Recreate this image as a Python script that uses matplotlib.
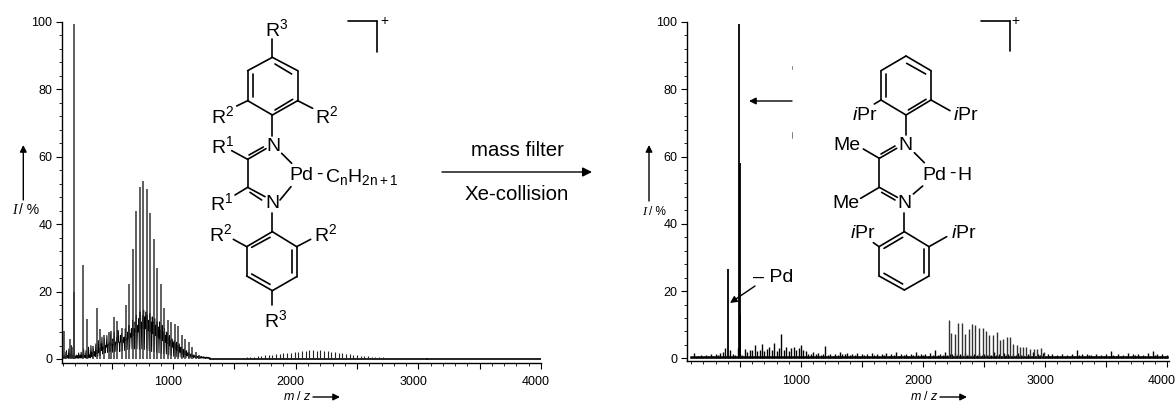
import numpy as np
import matplotlib
matplotlib.use('Agg')
import matplotlib.pyplot as plt
from matplotlib.transforms import ScaledTranslation

plt.rcParams['font.family'] = ['Liberation Sans', 'DejaVu Sans']
plt.rcParams['mathtext.fontset'] = 'custom'
plt.rcParams['mathtext.rm'] = 'Liberation Sans'
plt.rcParams['mathtext.it'] = 'Liberation Sans:italic'
plt.rcParams['mathtext.default'] = 'regular'

# left spectrum, strong peaks
left_mz = [110, 130, 159, 175, 189, 192, 265, 298, 345, 377, 407, 437, 478, 496, 521, 545, 586,
           614, 642, 671, 700, 728, 757, 785, 814, 842, 871, 900, 928, 957, 985, 1014, 1042,
           1071, 1100, 1128, 1157, 1185, 1214]
left_int = [8.3, 2.0, 6.0, 3.5, 20.0, 99.5, 28.0, 12.0, 4.0, 15.0, 9.0, 7.0, 8.0, 8.3, 12.6, 11.3, 9.3,
            16.0, 22.3, 32.6, 44.0, 51.0, 52.8, 50.4, 43.3, 35.6, 27.0, 22.3, 15.0, 11.6, 11.0,
            10.5, 9.8, 7.0, 6.0, 5.0, 3.6, 2.0, 1.2]
# left spectrum, dense part: tops every 10 m/z from 100, valleys half way between
left_top = [0.8, 1.2, 0.8, 2.5, 1.0, 3.0, 1.5, 4.0, 1.0, 1.5, 0.8, 1.2, 1.0, 1.8, 1.0, 2.0, 1.2, 3.0, 1.0, 2.5,
            1.0, 3.5, 1.2, 4.0, 2.0, 3.0, 2.2, 4.5, 2.5, 5.5, 3.2, 4.5, 6.5, 3.5, 6.0, 4.0, 7.0, 4.2, 5.0, 7.5,
            4.5, 6.0, 8.0, 5.0, 6.5, 8.5, 5.0, 7.0, 7.5, 5.5, 6.5, 9.0, 6.0, 8.0, 10.0, 7.5, 9.0, 11.5, 9.0, 11.0,
            13.0, 10.0, 12.0, 14.0, 11.0, 13.0, 14.5, 12.5, 14.0, 13.0, 11.5, 13.5, 11.0, 12.5, 11.0, 12.0, 10.0, 11.0, 9.5, 11.0,
            8.5, 10.0, 8.0, 9.0, 7.0, 8.0, 6.5, 7.0, 5.5, 6.0, 5.0, 5.5, 4.5, 5.0, 4.0, 4.5, 3.5, 3.5, 2.8, 3.0,
            2.2, 2.5, 1.8, 2.0, 1.5, 1.5, 1.2, 1.2, 1.0, 1.0, 0.8, 0.9, 0.7, 0.8, 0.6, 0.7, 0.5, 0.6, 0.5, 0.5, 0.4]
left_low = [0.2, 0.3, 0.2, 0.4, 0.2, 0.5, 0.3, 0.4, 0.2, 0.2, 0.2, 0.3, 0.2, 0.3, 0.3, 0.3, 0.4, 0.5, 0.3, 0.4,
            0.2, 0.5, 0.3, 0.7, 0.4, 1.0, 0.7, 1.5, 0.8, 1.8, 1.0, 2.5, 1.5, 3.0, 1.8, 3.5, 2.0, 4.0, 2.2, 4.0,
            2.0, 4.0, 2.2, 4.5, 2.5, 5.0, 2.2, 5.0, 2.5, 5.0, 2.5, 5.5, 2.8, 6.0, 2.8, 6.5, 3.0, 7.0, 3.0, 8.0,
            3.0, 8.0, 2.8, 9.0, 3.0, 9.0, 2.8, 9.0, 3.0, 8.5, 2.5, 8.0, 2.2, 7.5, 2.2, 7.0, 2.0, 6.5, 1.8, 6.0,
            1.7, 5.5, 1.5, 5.0, 1.5, 4.5, 1.2, 4.0, 1.0, 3.5, 0.8, 3.0, 0.7, 2.5, 0.6, 2.0, 0.5, 1.5, 0.5, 1.2,
            0.4, 1.0, 0.4, 0.8, 0.3, 0.7, 0.3, 0.5, 0.3, 0.4, 0.2, 0.3, 0.2, 0.3, 0.2, 0.2, 0.1, 0.2, 0.1, 0.1, 0.1]
# left spectrum, weak hump: every 30 m/z from 1300
left_hump = [0.3, 0.4, 0.3, 0.2, 0.2, 0.2, 0.3, 0.3, 0.4, 0.4, 0.5, 0.6, 0.7, 0.8, 0.9, 1.1, 1.2, 1.3, 1.5, 1.5,
             1.7, 1.7, 1.8, 2.0, 2.0, 2.3, 2.4, 2.6, 2.8, 2.5, 2.6, 2.3, 2.3, 2.1, 2.0, 1.8, 1.7, 1.5, 1.4, 1.3,
             1.2, 1.0, 0.9, 0.8, 0.7, 0.6, 0.6, 0.5, 0.4, 0.4, 0.3, 0.3, 0.3, 0.2, 0.2, 0.2, 0.2, 0.2, 0.2, 0.2]

# right spectrum, strong peaks
right_mz = [399, 496, 499, 502]
right_int = [26.5, 99.5, 58.0, 13.0]
# right spectrum, oligomer peaks
right_olig_mz = [2210, 2232, 2259, 2289, 2319, 2347, 2374, 2404, 2429, 2459, 2489, 2519, 2543, 2573, 2603,
                 2628, 2655, 2685, 2715, 2737, 2767, 2794, 2819, 2846, 2876, 2906, 2934, 2966, 2994]
right_olig_int = [11.4, 7.4, 7.2, 10.4, 10.4, 7.2, 8.6, 10.2, 9.8, 8.9, 8.9, 8.1, 6.9, 6.9, 7.9,
                  5.4, 5.9, 6.2, 6.4, 4.2, 4.0, 3.5, 3.3, 3.5, 2.9, 2.9, 2.7, 3.0, 2.0]
# right spectrum, noise: every 20 m/z from 100
right_noise = [0.4, 1.5, 0.5, 0.8, 0.9, 0.5, 0.9, 0.8, 1.2, 0.8, 1.4, 1.0, 1.6, 1.8, 3.2, 1.0, 2.5, 1.2, 1.0, 3.0,
               1.2, 1.0, 2.8, 2.0, 2.6, 2.4, 4.0, 2.2, 2.6, 4.2, 2.2, 2.8, 3.4, 2.4, 4.5, 2.2, 3.0, 7.2, 2.4, 3.5,
               2.2, 3.0, 3.5, 2.4, 3.2, 4.0, 2.6, 2.2, 1.4, 1.2, 2.0, 1.2, 1.5, 1.0, 1.4, 3.7, 1.0, 1.4, 0.8, 1.4,
               1.0, 2.0, 1.4, 1.2, 1.6, 0.9, 1.4, 1.0, 1.5, 0.8, 1.2, 0.9, 1.4, 0.8, 1.6, 1.0, 1.2, 0.8, 1.4, 0.9,
               1.6, 0.8, 1.2, 0.9, 1.8, 0.8, 1.2, 0.9, 1.4, 0.8, 1.2, 0.9, 2.0, 0.9, 1.4, 1.0, 1.2, 0.8, 1.6, 1.0,
               2.5, 1.0, 1.4, 0.9, 1.8, 1.0, 1.4, 1.2, 1.6, 1.0, 1.4, 0.9, 1.6, 1.0, 1.2, 0.9, 1.4, 1.0, 1.6, 0.9,
               1.2, 1.0, 1.4, 0.9, 1.8, 0.9, 1.2, 0.8, 1.6, 1.0, 1.4, 0.8, 1.2, 0.9, 1.6, 0.9, 1.0, 0.8, 1.4, 0.9,
               1.8, 0.8, 1.2, 1.0, 1.5, 0.8, 1.2, 0.7, 1.4, 0.8, 1.0, 0.7, 1.2, 0.8, 1.0, 0.7, 1.2, 0.8, 2.5, 0.9,
               1.4, 0.8, 1.2, 0.9, 1.0, 0.8, 1.4, 0.8, 1.0, 0.7, 1.2, 0.8, 2.3, 1.0, 0.8, 1.2, 0.7, 1.0, 0.8, 1.6,
               0.8, 1.2, 0.9, 1.4, 0.7, 1.0, 0.8, 1.6, 0.8, 2.3, 1.0, 1.4, 0.7, 1.2, 0.8, 1.0]

y_ticks = [0, 20, 40, 60, 80, 100]
x_ticks = [500, 1000, 1500, 2000, 2500, 3000, 3500, 4000]
x_labels = ['', '1000', '', '2000', '', '3000', '', '4000']

W, H = 1176, 403
fig = plt.figure(figsize=(W / 100, H / 100), dpi=100)


def make_axes(x0, x1, y_top, y_bot, xlim, ybot):
    ax = fig.add_axes([x0 / W, 1 - y_bot / H, (x1 - x0) / W, (y_bot - y_top) / H])
    ax.set_xlim(*xlim)
    ax.set_ylim(ybot, 100)
    ax.spines['top'].set_visible(False)
    ax.spines['right'].set_visible(False)
    ax.spines['left'].set_linewidth(1.0)
    ax.spines['bottom'].set_linewidth(1.0)
    ax.set_yticks(y_ticks)
    ax.set_yticks(np.arange(0, 101, 4), minor=True)
    ax.set_xticks(x_ticks)
    ax.set_xticklabels(x_labels)
    ax.set_xticks(np.arange(100, 4001, 100), minor=True)
    ax.tick_params(axis='both', which='major', length=4, width=0.8, labelsize=9, pad=3)
    ax.tick_params(axis='both', which='minor', length=2, width=0.6)
    ax.tick_params(axis='x', pad=6)
    # tick numbers sit a little left of their ticks in the original
    for t in ax.get_xticklabels():
        t.set_transform(t.get_transform() + ScaledTranslation(-5 / 100, 0, fig.dpi_scale_trans))
    ax.patch.set_alpha(0)
    return ax


ax1 = make_axes(62, 541, 22, 362.6, (94, 4000), -1.07)
mz_dense = 100 + 10 * np.arange(len(left_top))
xs = np.column_stack([mz_dense, mz_dense + 5]).ravel()
ys = np.column_stack([left_top, left_low]).ravel()
ax1.plot(xs, ys, color='k', lw=0.7)
mz_hump = 1300 + 30 * np.arange(len(left_hump))
ax1.plot(mz_hump, np.zeros(len(left_hump)) + 0.05, color='k', lw=1.2)
ax1.plot([3070, 4000], [0.05, 0.05], color='k', lw=1.2)
ax1.vlines(mz_hump, 0, left_hump, color='#222222', lw=0.8)
ax1.vlines(left_mz, 0, left_int, color='#333333', lw=1.1)

ax2 = make_axes(687, 1169, 22, 360.7, (66, 4015), -0.7)
mz_noise = 100 + 20 * np.arange(len(right_noise))
ax2.plot(mz_noise, np.zeros(len(mz_noise)) + 0.35, color='k', lw=1.8)
ax2.vlines(mz_noise, 0.1, right_noise, color='k', lw=1.0)
ax2.vlines(right_olig_mz, 0.3, right_olig_int, color='#333333', lw=1.0)
ax2.vlines(right_mz, 0, right_int, color='k', lw=1.3)

# overlay in picture pixels for the structures and arrows
ov = fig.add_axes([0, 0, 1, 1])
ov.set_xlim(0, W)
ov.set_ylim(H, 0)
ov.axis('off')
ov.patch.set_alpha(0)


def bonds(segs, ox, oy=0, lw=1.2, color='k'):
    for (a, b, c, d) in segs:
        ov.plot([ox + a / 3, ox + c / 3], [oy + b / 3, oy + d / 3], color=color, lw=lw,
                solid_capstyle='round')


def label(s, x, y, ox, size=14, **kw):
    ov.text(ox + x / 3, y / 3, s, fontsize=size, ha='center', va='center', **kw)


def arrow(x0, y0, x1, y1, scale=10):
    ov.annotate('', xy=(x1, y1), xytext=(x0, y0),
                arrowprops=dict(arrowstyle='-|>', color='k', lw=1.0, mutation_scale=scale,
                                shrinkA=0, shrinkB=0))


left_bonds = [(277, 172, 353, 212), (353, 212, 353, 302), (353, 302, 277, 345), (277, 345, 203, 302),
              (203, 302, 203, 212), (203, 212, 277, 172), (218, 222, 218, 290), (285, 192, 335, 222),
              (285, 330, 338, 298), (277, 172, 277, 118), (203, 302, 170, 318), (353, 302, 398, 325),
              (277, 345, 277, 408), (203, 478, 258, 446), (207, 465, 250, 441), (203, 478, 155, 452),
              (203, 478, 203, 562), (203, 562, 165, 585), (203, 562, 255, 590), (210, 577, 245, 600),
              (305, 460, 335, 490), (300, 600, 333, 560), (277, 640, 277, 695), (277, 695, 350, 740),
              (350, 740, 350, 830), (350, 830, 277, 872), (277, 872, 200, 828), (200, 828, 200, 740),
              (200, 740, 277, 695), (215, 742, 270, 712), (335, 750, 335, 820), (215, 822, 270, 853),
              (200, 740, 160, 718), (350, 740, 392, 718), (277, 872, 277, 915), (503, 63, 592, 63),
              (592, 63, 592, 155)]
bonds(left_bonds, 180)
label('+', 612, 63, 180, size=10)
for s, x, y in [('R$^{3}$', 291, 87), ('R$^{2}$', 127, 348), ('R$^{2}$', 440, 348), ('R$^{1}$', 127, 437),
                ('R$^{1}$', 125, 610), ('N', 279, 440), ('N', 277, 612), ('R$^{2}$', 123, 703),
                ('R$^{2}$', 437, 703), ('R$^{3}$', 287, 960), ('Pd', 365, 528), ('-', 417, 522)]:
    label(s, x, y, 180)
ov.text(180 + 435 / 3, 530 / 3, 'C$_{n}$H$_{2n+1}$', fontsize=14, ha='left', va='center')

right_bonds = [(378, 168, 453, 212), (453, 212, 453, 300), (453, 300, 378, 345), (378, 345, 303, 300),
               (303, 300, 303, 212), (303, 212, 378, 168), (318, 222, 318, 290), (380, 190, 437, 222),
               (385, 330, 438, 298), (303, 300, 283, 312), (453, 300, 510, 332), (378, 345, 378, 405),
               (298, 475, 350, 445), (303, 462, 345, 438), (298, 475, 250, 447), (298, 475, 298, 562),
               (298, 562, 242, 595), (298, 562, 352, 592), (305, 577, 345, 600), (403, 458, 433, 488),
               (400, 582, 428, 558), (373, 640, 373, 695), (373, 695, 447, 740), (447, 740, 447, 828),
               (447, 828, 373, 870), (373, 870, 297, 828), (297, 828, 297, 740), (297, 740, 373, 695),
               (312, 745, 368, 712), (432, 748, 432, 818), (312, 820, 368, 852), (297, 740, 280, 728),
               (447, 740, 500, 710), (602, 62, 690, 62), (690, 62, 690, 152)]
bonds(right_bonds, 780)
label('+', 707, 62, 780, size=10)
for s, x, y in [('$\\mathit{i}$Pr', 255, 347), ('$\\mathit{i}$Pr', 557, 347), ('Me', 200, 435), ('Me', 198, 610),
                ('N', 377, 435), ('N', 373, 612), ('Pd', 463, 525), ('-', 516, 520), ('H', 553, 525),
                ('$\\mathit{i}$Pr', 248, 700), ('$\\mathit{i}$Pr', 552, 700)]:
    label(s, x, y, 780)

# reaction arrow
arrow(442, 172, 592, 172, scale=14)
ov.text(517, 150, 'mass filter', fontsize=14.7, ha='center', va='center')
ov.text(517, 194, 'Xe-collision', fontsize=14.7, ha='center', va='center')

# axis arrows and the intensity labels
for x, y0, y1 in [(23.3, 200, 145), (649, 201, 145)]:
    arrow(x, y0, x, y1)
ov.text(29, 210, '/ %', fontsize=10, ha='center', va='center')
ov.text(14, 210, 'I', fontsize=10, style='italic', family='Liberation Serif', ha='center', va='center')
ov.text(657, 212, '/ %', fontsize=8.5, ha='center', va='center')
ov.text(644, 212, 'I', fontsize=9, style='italic', family='Liberation Serif', ha='center', va='center')
for x, y in [(297, 397), (924, 397)]:
    ov.text(x, y, '$\\mathit{m}$ / $\\mathit{z}$', fontsize=9, ha='center', va='center')
    arrow(x + 16, y, x + 43, y)

# annotations on the right spectrum
arrow(792, 101, 749, 101)
bonds([(455, 197, 455, 208), (455, 397, 455, 413)], 640, lw=0.6, color='#666666')
ov.text(753, 278, '\u2013 Pd', fontsize=14, ha='left', va='center')
arrow(755, 286, 730, 303)

fig.savefig('out.png', dpi=100)
